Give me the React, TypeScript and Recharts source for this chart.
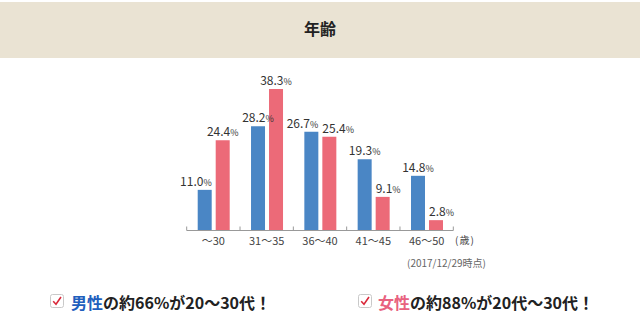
import React from 'react';
import { BarChart, Bar, XAxis, YAxis, LabelList } from 'recharts';

const categories = ['〜30', '31〜35', '36〜40', '41〜45', '46〜50'];
const maleValues = [11.0, 28.2, 26.7, 19.3, 14.8];
const femaleValues = [24.4, 38.3, 25.4, 9.1, 2.8];

const blueAlign = ['end', 'middle', 'end', 'middle', 'middle'];
const redAlign = ['middle', 'middle', 'start', 'start', 'start'];

const data = categories.map((c, i) => ({ cat: c, male: maleValues[i], female: femaleValues[i] }));

const FONT = '"Noto Sans CJK JP", "Noto Sans", sans-serif';
const BLUE = '#4a86c5';
const RED = '#ec6a78';

const makeLabel = (align: string[]) => (props: any) => {
  const { x, y, width, value, index } = props;
  const a = align[index] || 'middle';
  let tx = x + width / 2;
  if (a === 'end') tx = x + width;
  if (a === 'start') tx = x;
  return (
    <text x={tx} y={y - 4} textAnchor={a} fill="#333" fontFamily={FONT}>
      <tspan fontSize={12}>{Number(value).toFixed(1)}</tspan>
      <tspan fontSize={9}>%</tspan>
    </text>
  );
};

const Tick = (props: any) => {
  const { x, y, payload, index } = props;
  const off = payload.offset || 0;
  const base = y - 8;
  return (
    <g>
      <line x1={x - off} x2={x - off} y1={base - 4} y2={base} stroke="#999" />
      {index === categories.length - 1 && (
        <line x1={x + off} x2={x + off} y1={base - 4} y2={base} stroke="#999" />
      )}
      <text x={x} y={base + 14} textAnchor="middle" fill="#444" fontSize={11} fontFamily={FONT}>
        {payload.value}
      </text>
    </g>
  );
};

const CheckBox = () => (
  <svg width={14} height={14} viewBox="0 0 14 14" style={{ display: 'block' }}>
    <rect x={0.5} y={0.5} width={13} height={13} rx={2} fill="#fff" stroke="#c9c9c9" />
    <path d="M3.2 7.2 L6 10.2 L11 3" fill="none" stroke="#d9283a" strokeWidth={1.6} />
  </svg>
);

export default function App() {
  return (
    <div style={{ position: 'absolute', left: 0, top: 0, width: 640, height: 321, background: '#fff', fontFamily: FONT, overflow: 'hidden' }}>
      <div style={{ position: 'absolute', left: 0, top: 2, width: 640, height: 56, background: '#eae3d3' }} />
      <div style={{ position: 'absolute', left: 0, top: 17, width: 640, textAlign: 'center', fontSize: 16, fontWeight: 700, color: '#222', lineHeight: '22px' }}>年齢</div>
      <div style={{ position: 'absolute', left: 0, top: 0 }}>
        <BarChart width={640} height={321} data={data} margin={{ top: 82.7, right: 186.7, left: 186.7, bottom: 60.5 }} barSize={14} barGap={4}>
          <YAxis hide domain={[0, 40]} />
          <XAxis dataKey="cat" height={30} tick={<Tick />} tickLine={false} axisLine={{ stroke: '#999' }} interval={0} />
          <Bar dataKey="male" fill={BLUE} isAnimationActive={false}>
            <LabelList dataKey="male" content={makeLabel(blueAlign)} />
          </Bar>
          <Bar dataKey="female" fill={RED} isAnimationActive={false}>
            <LabelList dataKey="female" content={makeLabel(redAlign)} />
          </Bar>
        </BarChart>
      </div>
      <div style={{ position: 'absolute', left: 455, top: 233, fontSize: 10, color: '#444', whiteSpace: 'nowrap', lineHeight: '14px', letterSpacing: 1 }}>(歳)</div>
      <div style={{ position: 'absolute', left: 407, top: 256, fontSize: 10, color: '#666', whiteSpace: 'nowrap', lineHeight: '14px' }}>(2017/12/29時点)</div>
      <div style={{ position: 'absolute', left: 50, top: 294 }}><CheckBox /></div>
      <div style={{ position: 'absolute', left: 71, top: 291, fontSize: 16, fontWeight: 700, color: '#222', whiteSpace: 'nowrap', lineHeight: '22px' }}>
        <span style={{ color: '#1f5fbd' }}>男性</span>の約66%が20〜30代！
      </div>
      <div style={{ position: 'absolute', left: 358, top: 294 }}><CheckBox /></div>
      <div style={{ position: 'absolute', left: 378, top: 291, fontSize: 16, fontWeight: 700, color: '#222', whiteSpace: 'nowrap', lineHeight: '22px' }}>
        <span style={{ color: '#e8627f' }}>女性</span>の約88%が20代〜30代！
      </div>
    </div>
  );
}
